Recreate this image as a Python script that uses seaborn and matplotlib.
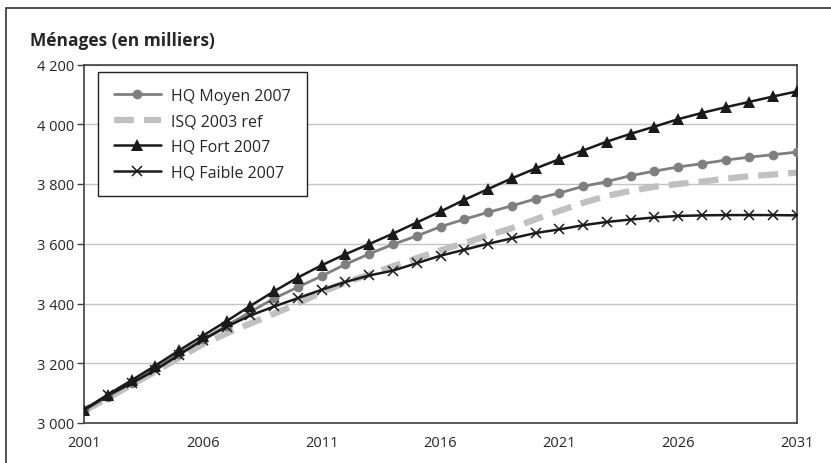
import matplotlib
matplotlib.use("Agg")
import matplotlib.pyplot as plt
import matplotlib.patches as patches
import seaborn as sns

years = list(range(2001, 2032))

hq_moyen = [3043, 3088, 3135, 3183, 3232, 3280, 3326, 3372, 3417, 3455,
            3492, 3531, 3566, 3598, 3626, 3657, 3682, 3705, 3727, 3750,
            3770, 3792, 3808, 3828, 3843, 3857, 3868, 3880, 3890, 3898, 3907]
isq_ref = [3040, 3083, 3128, 3172, 3218, 3264, 3300, 3333, 3366, 3400,
           3438, 3470, 3497, 3525, 3552, 3578, 3602, 3628, 3652, 3682,
           3710, 3737, 3760, 3777, 3791, 3800, 3808, 3818, 3826, 3832, 3838]
hq_fort = [3045, 3095, 3143, 3192, 3243, 3292, 3341, 3392, 3441, 3487,
           3528, 3565, 3599, 3634, 3671, 3708, 3747, 3783, 3819, 3852,
           3883, 3912, 3942, 3968, 3992, 4017, 4038, 4057, 4075, 4093, 4110]
hq_faible = [3043, 3093, 3133, 3177, 3228, 3278, 3322, 3360, 3390, 3418,
             3446, 3472, 3494, 3510, 3535, 3560, 3580, 3600, 3618, 3636,
             3648, 3662, 3673, 3681, 3688, 3693, 3695, 3696, 3696, 3696, 3695]

labels = ["HQ Moyen 2007", "ISQ 2003 ref", "HQ Fort 2007", "HQ Faible 2007"]
y_ticks = [3000, 3200, 3400, 3600, 3800, 4000, 4200]
y_labels = ["3 000", "3 200", "3 400", "3 600", "3 800", "4 000", "4 200"]
x_labels = ["2001", "2006", "2011", "2016", "2021", "2026", "2031"]

sns.set_style("white")
plt.rcParams['font.family'] = ['Open Sans', 'DejaVu Sans']

fig = plt.figure(figsize=(8.31, 4.64), dpi=100)
ax = fig.add_axes([84 / 831, 1 - 424 / 464, 713 / 831, 358.5 / 464])

# grid lines
for v in y_ticks[1:]:
    ax.axhline(v, color="#c4c4c4", lw=1.0, zorder=1)

sns.lineplot(x=years, y=isq_ref, ax=ax, color="#c0c0c0", lw=4.5,
             linestyle=(0, (3.2, 1.6)), label=labels[1], zorder=2, clip_on=False)
sns.lineplot(x=years, y=hq_moyen, ax=ax, color="#7f7f7f", lw=2.0, marker="o",
             markersize=7, markeredgewidth=0, label=labels[0], zorder=3)
sns.lineplot(x=years, y=hq_fort, ax=ax, color="#1a1a1a", lw=1.8, marker="^",
             markersize=8, markeredgewidth=0, label=labels[2], zorder=4)
sns.lineplot(x=years, y=hq_faible, ax=ax, color="#1a1a1a", lw=1.8, marker="x",
             markersize=7, markeredgewidth=1.1, markeredgecolor="#1a1a1a",
             label=labels[3], zorder=5)

ax.set_xlim(2001, 2031)
ax.set_ylim(3000, 4200)
ax.set_yticks(y_ticks)
ax.set_yticklabels(y_labels, fontsize=10.5)
ax.set_xticks(years)
ax.set_xticklabels([str(y) if str(y) in x_labels else "" for y in years], fontsize=10.5)
ax.tick_params(axis="x", direction="inout", length=9, width=1, color="#404040", pad=4)
ax.tick_params(axis="y", direction="out", length=5, width=1, color="#404040", pad=2, left=True)
for s in ax.spines.values():
    s.set_color("#404040")
    s.set_linewidth(1.2)
ax.set_xlabel("")
ax.set_ylabel("")

handles, labs = ax.get_legend_handles_labels()
order = [labs.index(l) for l in labels]
leg = ax.legend([handles[i] for i in order], [labs[i] for i in order],
                loc="upper left", bbox_to_anchor=(0.019, 0.98), fontsize=11.5,
                frameon=True, fancybox=False, framealpha=1, edgecolor="#222222",
                handlelength=3.0, labelspacing=0.6, borderpad=1.0, handletextpad=0.6,
                borderaxespad=0)
leg.get_frame().set_linewidth(1.0)

fig.text(30 / 831, 1 - 46 / 464, "Ménages (en milliers)", fontsize=12.5,
         fontweight="bold", va="baseline", ha="left")

# outer frame
fig.patches.append(patches.Rectangle((6 / 831, -0.1), 1.2, 1.1 - 9 / 464, fill=False,
                                     transform=fig.transFigure, lw=1.2,
                                     edgecolor="#333333", figure=fig))

fig.savefig("out.png", dpi=100)
